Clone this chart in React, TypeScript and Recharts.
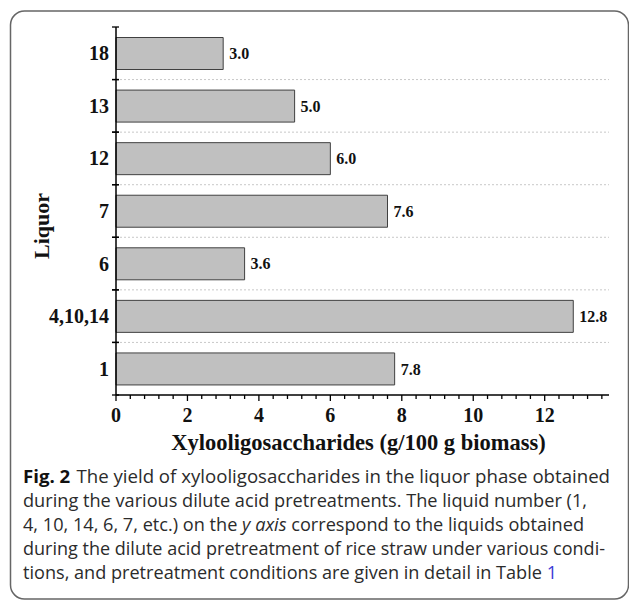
import React from "react";
import { BarChart, Bar, XAxis, YAxis, CartesianGrid, LabelList, Label } from "recharts";

const liquors = ["18", "13", "12", "7", "6", "4,10,14", "1"];
const xosYield = [3.0, 5.0, 6.0, 7.6, 3.6, 12.8, 7.8];
const majorTicks = [0, 2, 4, 6, 8, 10, 12];
const minorOffsets = [0.4, 0.8, 1.2, 1.6];
const xMax = 13.8;

const captionLines = [
  "during the various dilute acid pretreatments. The liquid number (1,",
  "during the dilute acid pretreatment of rice straw under various condi-",
];

const data = liquors.map((liquor, i) => ({ liquor, value: xosYield[i] }));
const xTicks = majorTicks
  .flatMap((m) => [m, ...minorOffsets.map((o) => Math.round((m + o) * 10) / 10)])
  .filter((t) => t < xMax);

const SERIF = "'Liberation Serif', 'Times New Roman', serif";
const SANS = "'Open Sans', 'Noto Sans', sans-serif";

function XTick(props: any) {
  const { x, y, payload } = props;
  const major = majorTicks.includes(payload.value);
  return (
    <g>
      <line x1={x} x2={x} y1={y} y2={y + (major ? 6 : 4)} stroke="#000" strokeWidth={1.3} />
      {major && (
        <text x={x} y={y + 27} textAnchor="middle" fontFamily={SERIF} fontWeight={700} fontSize={20} fill="#111">
          {payload.value}
        </text>
      )}
    </g>
  );
}

function YTick(props: any) {
  const { x, y, payload } = props;
  const half = payload.offset ?? 26.3;
  return (
    <g>
      <line x1={x - 4} x2={x + 3} y1={y - half} y2={y - half} stroke="#000" strokeWidth={1.3} />
      <line x1={x - 4} x2={x + 3} y1={y + half} y2={y + half} stroke="#000" strokeWidth={1.3} />
      <text x={x - 7} y={y + 7} textAnchor="end" fontFamily={SERIF} fontWeight={700} fontSize={20} fill="#111">
        {payload.value}
      </text>
    </g>
  );
}

export default function App() {
  return (
    <div style={{ position: "absolute", left: 0, top: 0, width: 629, height: 601, background: "#fff" }}>
      <svg width={629} height={601} style={{ position: "absolute", left: 0, top: 0 }}>
        <rect x={10.5} y={11} width={618} height={588} rx={14} fill="none" stroke="#666" strokeWidth={1.5} />
      </svg>
      <div style={{ position: "absolute", left: 0, top: 0 }}>
        <BarChart
          width={629}
          height={460}
          data={data}
          layout="vertical"
          barCategoryGap="20%"
          margin={{ top: 27, right: 20, bottom: 35, left: 0 }}
        >
          <CartesianGrid
            vertical={false}
            stroke="#c8c8c8"
            strokeDasharray="2 2"
            horizontalCoordinatesGenerator={({ offset }: any) =>
              liquors.slice(1).map((_, i) => offset.top + ((i + 1) * offset.height) / liquors.length)
            }
          />
          <XAxis
            type="number"
            domain={[0, xMax]}
            ticks={xTicks}
            interval={0}
            height={30}
            tickSize={0}
            tickMargin={0}
            tickLine={false}
            axisLine={{ stroke: "#000", strokeWidth: 1.5 }}
            tick={(p: any) => <XTick {...p} />}
          >
            <Label
              content={({ viewBox }: any) => (
                <text
                  x={viewBox.x + viewBox.width / 2 - 4}
                  y={viewBox.y + 55}
                  textAnchor="middle"
                  fontFamily={SERIF}
                  fontWeight={700}
                  fontSize={22.5}
                  fill="#111"
                >
                  Xylooligosaccharides (g/100 g biomass)
                </text>
              )}
            />
          </XAxis>
          <YAxis
            type="category"
            dataKey="liquor"
            width={116}
            interval={0}
            tickSize={0}
            tickMargin={0}
            tickLine={false}
            axisLine={{ stroke: "#000", strokeWidth: 1.5 }}
            tick={(p: any) => <YTick {...p} />}
          >
            <Label
              content={({ viewBox }: any) => {
                const cx = viewBox.x + 49;
                const cy = viewBox.y + viewBox.height / 2 + 15;
                return (
                  <text
                    x={cx}
                    y={cy}
                    transform={`rotate(-90, ${cx}, ${cy})`}
                    textAnchor="middle"
                    fontFamily={SERIF}
                    fontWeight={700}
                    fontSize={22}
                    fill="#111"
                  >
                    Liquor
                  </text>
                );
              }}
            />
          </YAxis>
          <Bar dataKey="value" fill="#c0c0c0" stroke="#404040" strokeWidth={1} isAnimationActive={false}>
            <LabelList
              dataKey="value"
              position="right"
              offset={6}
              formatter={(v: any) => Number(v).toFixed(1)}
              fill="#111"
              fontSize={16}
              fontWeight={700}
              fontFamily={SERIF}
            />
          </Bar>
        </BarChart>
      </div>
      <svg width={629} height={601} style={{ position: "absolute", left: 0, top: 0, pointerEvents: "none" }}>
        <g fontFamily={SANS} fontSize={18} fill="#2b2b2b">
          <text x={23} y={483} textLength={587} lengthAdjust="spacingAndGlyphs">
            <tspan fontWeight={700} fill="#111">Fig. 2</tspan>
            <tspan dx={6}>The yield of xylooligosaccharides in the liquor phase obtained</tspan>
          </text>
          <text x={23} y={507} textLength={564} lengthAdjust="spacingAndGlyphs">
            {captionLines[0]}
          </text>
          <text x={23} y={531} textLength={561} lengthAdjust="spacingAndGlyphs">
            4, 10, 14, 6, 7, etc.) on the <tspan fontStyle="italic">y axis</tspan> correspond to the liquids obtained
          </text>
          <text x={23} y={555} textLength={582} lengthAdjust="spacingAndGlyphs">
            {captionLines[1]}
          </text>
          <text x={23} y={579} textLength={534} lengthAdjust="spacingAndGlyphs">
            tions, and pretreatment conditions are given in detail in Table <tspan fill="#3b3bd6">1</tspan>
          </text>
        </g>
      </svg>
    </div>
  );
}
